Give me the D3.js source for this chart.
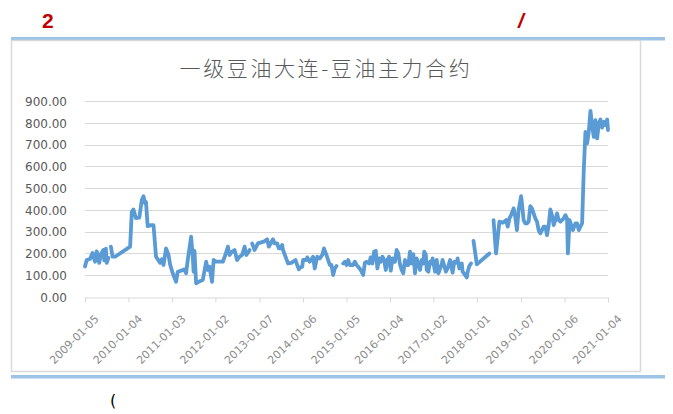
<!DOCTYPE html>
<html>
<head>
<meta charset="utf-8">
<script src="https://cdn.jsdelivr.net/npm/d3@7"></script>
<style>
  body { margin: 0; background: #fff; }
  svg { display: block; }
</style>
</head>
<body>
<svg id="chart" width="673" height="414" viewBox="0 0 673 414"></svg>
<script>
// weekly observations, "%Y-W%W"; null marks a break in the line
const weeks = [
  "2009-W01","2009-W03","2009-W07","2009-W10","2009-W13","2009-W15","2009-W18","2009-W20","2009-W23","2009-W24","2009-W26","2009-W27","2009-W29","2009-W30",
  "2009-W32","2009-W34","2009-W37","2010-W03","2010-W05","2010-W07","2010-W10","2010-W14","2010-W17","2010-W19","2010-W21","2010-W22","2010-W24","2010-W28","2010-W31","2010-W34","2010-W39","2010-W41","2010-W43","2010-W46","2010-W49","2010-W51",
  "2011-W02","2011-W06","2011-W08","2011-W12","2011-W16","2011-W18","2011-W20","2011-W24","2011-W26","2011-W27","2011-W28","2011-W30","2011-W33","2011-W38","2011-W42","2011-W44","2011-W46","2011-W49","2011-W51",
  "2012-W02","2012-W10","2012-W13","2012-W16","2012-W18","2012-W21","2012-W24","2012-W27","2012-W30","2012-W33","2012-W36","2012-W38","2012-W41","2012-W42","2012-W44",
  "2012-W45","2012-W48","2012-W52","2013-W06","2013-W10","2013-W12","2013-W17","2013-W19","2013-W22","2013-W24","2013-W26","2013-W28","2013-W29","2013-W32","2013-W35","2013-W39","2013-W44","2013-W46","2013-W48","2013-W49","2013-W52",
  "2014-W01","2014-W05","2014-W06","2014-W09","2014-W13","2014-W15","2014-W18","2014-W21","2014-W24","2014-W26","2014-W29","2014-W31","2014-W33","2014-W35","2014-W37","2014-W39","2014-W41","2014-W44",
  "2014-W49","2014-W51","2015-W01","2015-W03","2015-W05","2015-W09","2015-W11","2015-W13","2015-W15","2015-W18","2015-W21","2015-W23","2015-W25","2015-W28","2015-W30","2015-W32","2015-W34","2015-W36","2015-W38","2015-W40","2015-W42","2015-W44","2015-W46","2015-W48","2015-W50","2015-W52",
  "2016-W02","2016-W04","2016-W07","2016-W09","2016-W11","2016-W13","2016-W15","2016-W17","2016-W19","2016-W21","2016-W23","2016-W25","2016-W27","2016-W29","2016-W31","2016-W33","2016-W35","2016-W37","2016-W39","2016-W41","2016-W42","2016-W44","2016-W45","2016-W47","2016-W49","2016-W51","2016-W52",
  "2017-W03","2017-W05","2017-W07","2017-W11","2017-W12","2017-W16","2017-W18","2017-W21","2017-W24","2017-W26","2017-W29","2017-W30","2017-W32","2017-W35","2017-W36","2017-W41","2017-W42","2017-W44","2017-W46","2017-W47",
  "2017-W49","2018-W01","2018-W16","2018-W17",
  "2018-W21","2018-W24","2018-W28","2018-W32","2018-W34","2018-W36","2018-W38","2018-W40","2018-W42","2018-W45","2018-W47","2018-W49","2018-W51",
  "2019-W01","2019-W02","2019-W04","2019-W06","2019-W08","2019-W10","2019-W12","2019-W14","2019-W16","2019-W18","2019-W20","2019-W22","2019-W24","2019-W26","2019-W28","2019-W30","2019-W32","2019-W34","2019-W36","2019-W38","2019-W40","2019-W42","2019-W44","2019-W46","2019-W48","2019-W52",
  "2020-W02","2020-W04","2020-W05","2020-W07","2020-W09","2020-W11","2020-W14","2020-W16","2020-W18","2020-W20","2020-W22","2020-W24","2020-W26","2020-W28","2020-W30","2020-W32","2020-W34","2020-W36","2020-W38","2020-W40","2020-W42","2020-W44","2020-W46","2020-W48","2020-W50","2020-W52",
  "2021-W01"
]
const basis = [
  140,170,175,202,162,210,157,197,216,168,222,157,180,null,
  231,185,185,231,391,402,362,364,445,463,430,437,325,330,330,185,157,174,147,223,193,147,
  109,70,116,121,127,109,170,277,185,116,212,63,70,78,162,124,139,70,170,
  162,162,193,231,193,208,216,170,185,193,231,193,208,216,null,
  246,216,246,254,265,231,265,246,246,223,223,239,216,185,154,157,170,147,127,135,139,
  170,170,182,162,185,131,185,177,193,223,193,170,147,147,101,131,142,null,
  154,162,147,170,147,147,162,147,139,124,101,157,162,154,182,154,208,212,131,177,162,185,170,124,170,185,
  121,177,162,216,200,151,124,109,170,147,147,208,154,197,109,177,154,124,170,154,208,193,124,116,162,154,177,
  116,170,109,151,170,116,131,170,112,162,157,177,131,154,116,90,116,142,154,null,
  258,150,200,null,
  353,200,346,341,346,353,323,361,376,407,368,307,399,
  463,430,353,338,338,346,417,407,384,361,346,307,292,307,323,323,284,330,402,376,330,353,384,353,346,361,
  376,361,200,353,330,307,338,338,307,323,338,583,758,705,758,855,789,735,812,728,797,815,778,804,789,815,
  766
]
const tickLabels = ["2009-01-05","2010-01-04","2011-01-03","2012-01-02","2013-01-07","2014-01-06","2015-01-05",
  "2016-01-04","2017-01-02","2018-01-01","2019-01-07","2020-01-06","2021-01-04"]
const yTicks = [0, 100, 200, 300, 400, 500, 600, 700, 800, 900]
const title = "一级豆油大连-豆油主力合约"

const parseWeek = d3.timeParse("%Y-W%W")
const parseDay = d3.timeParse("%Y-%m-%d")
const data = weeks.map((w, i) => ({date: parseWeek(w), value: basis[i]}))

const svg = d3.select("#chart")
const grey = "#d9d9d9"

// page bits around the chart
svg.append("text").text("2")
   .attr("x", 42).attr("y", 28)
   .attr("font-family", "Liberation Sans, Arial").attr("font-weight", "bold")
   .attr("font-size", 21).attr("fill", "#c00000")
svg.append("text").text("/")
   .attr("x", 518).attr("y", 28)
   .attr("font-family", "Liberation Sans, Arial").attr("font-weight", "bold").attr("font-style", "italic")
   .attr("font-size", 21).attr("fill", "#c00000")
svg.append("rect").attr("x", 11).attr("y", 37).attr("width", 654).attr("height", 3.5).attr("fill", "#9dc3e6")
svg.append("rect").attr("x", 11).attr("y", 375).attr("width", 654).attr("height", 3.5).attr("fill", "#9dc3e6")
svg.append("text").text("(")
   .attr("x", 110).attr("y", 406)
   .attr("font-family", "DejaVu Sans").attr("font-size", 16).attr("fill", "#000")

// chart frame
svg.append("rect").attr("x", 11.5).attr("y", 40.5).attr("width", 629).attr("height", 331)
   .attr("fill", "#fff").attr("stroke", grey).attr("stroke-width", 1.5)

const x = d3.scaleTime().domain([parseWeek("2009-W01"), parseWeek("2021-W01")]).range([85, 608])
const y = d3.scaleLinear().domain([0, 900]).range([297, 101])

// gridlines
svg.append("g")
   .selectAll("line").data(yTicks.slice(1)).join("line")
   .attr("x1", 85).attr("x2", 608)
   .attr("y1", d => Math.round(y(d)) + 0.5).attr("y2", d => Math.round(y(d)) + 0.5)
   .attr("stroke", grey).attr("stroke-width", 1)

const yAxis = d3.axisLeft(y).tickValues(yTicks).tickSize(0).tickPadding(0).tickFormat(d3.format(".2f"))
const yAxisSVG = svg.append("g").attr("transform", "translate(67,0)").call(yAxis)
yAxisSVG.select(".domain").remove()
yAxisSVG.selectAll(".tick text")
   .attr("fill", "#595959").attr("font-family", "DejaVu Sans").attr("font-size", 12).attr("dy", "0.36em")

const xAxis = d3.axisBottom(x).tickValues(tickLabels.map(parseDay)).tickSizeOuter(0).tickSize(5)
   .tickFormat(d3.timeFormat("%Y-%m-%d"))
const xAxisSVG = svg.append("g").attr("transform", "translate(0,297.5)").call(xAxis)
xAxisSVG.selectAll(".tick line, .domain").attr("stroke", grey)
xAxisSVG.selectAll(".tick text")
   .attr("fill", "#8c8c8c").attr("font-family", "DejaVu Sans").attr("font-size", 11)
   .attr("text-anchor", "end").attr("dy", "0.3em")
   .attr("transform", "translate(6,14) rotate(-45)")

// series
const line = d3.line()
   .defined(d => d.value != null)
   .x(d => x(d.date))
   .y(d => y(d.value))
svg.append("path").datum(data)
   .attr("d", line)
   .attr("fill", "none")
   .attr("stroke", "#5b9bd5")
   .attr("stroke-width", 3.8)
   .attr("stroke-linejoin", "round")
   .attr("stroke-linecap", "round")

svg.append("text").text(title)
   .attr("x", 326).attr("y", 76)
   .attr("text-anchor", "middle")
   .attr("font-family", "Noto Sans CJK SC").attr("font-weight", 300)
   .attr("font-size", 21).attr("letter-spacing", 2.6)
   .attr("fill", "#595959")
</script>
</body>
</html>
